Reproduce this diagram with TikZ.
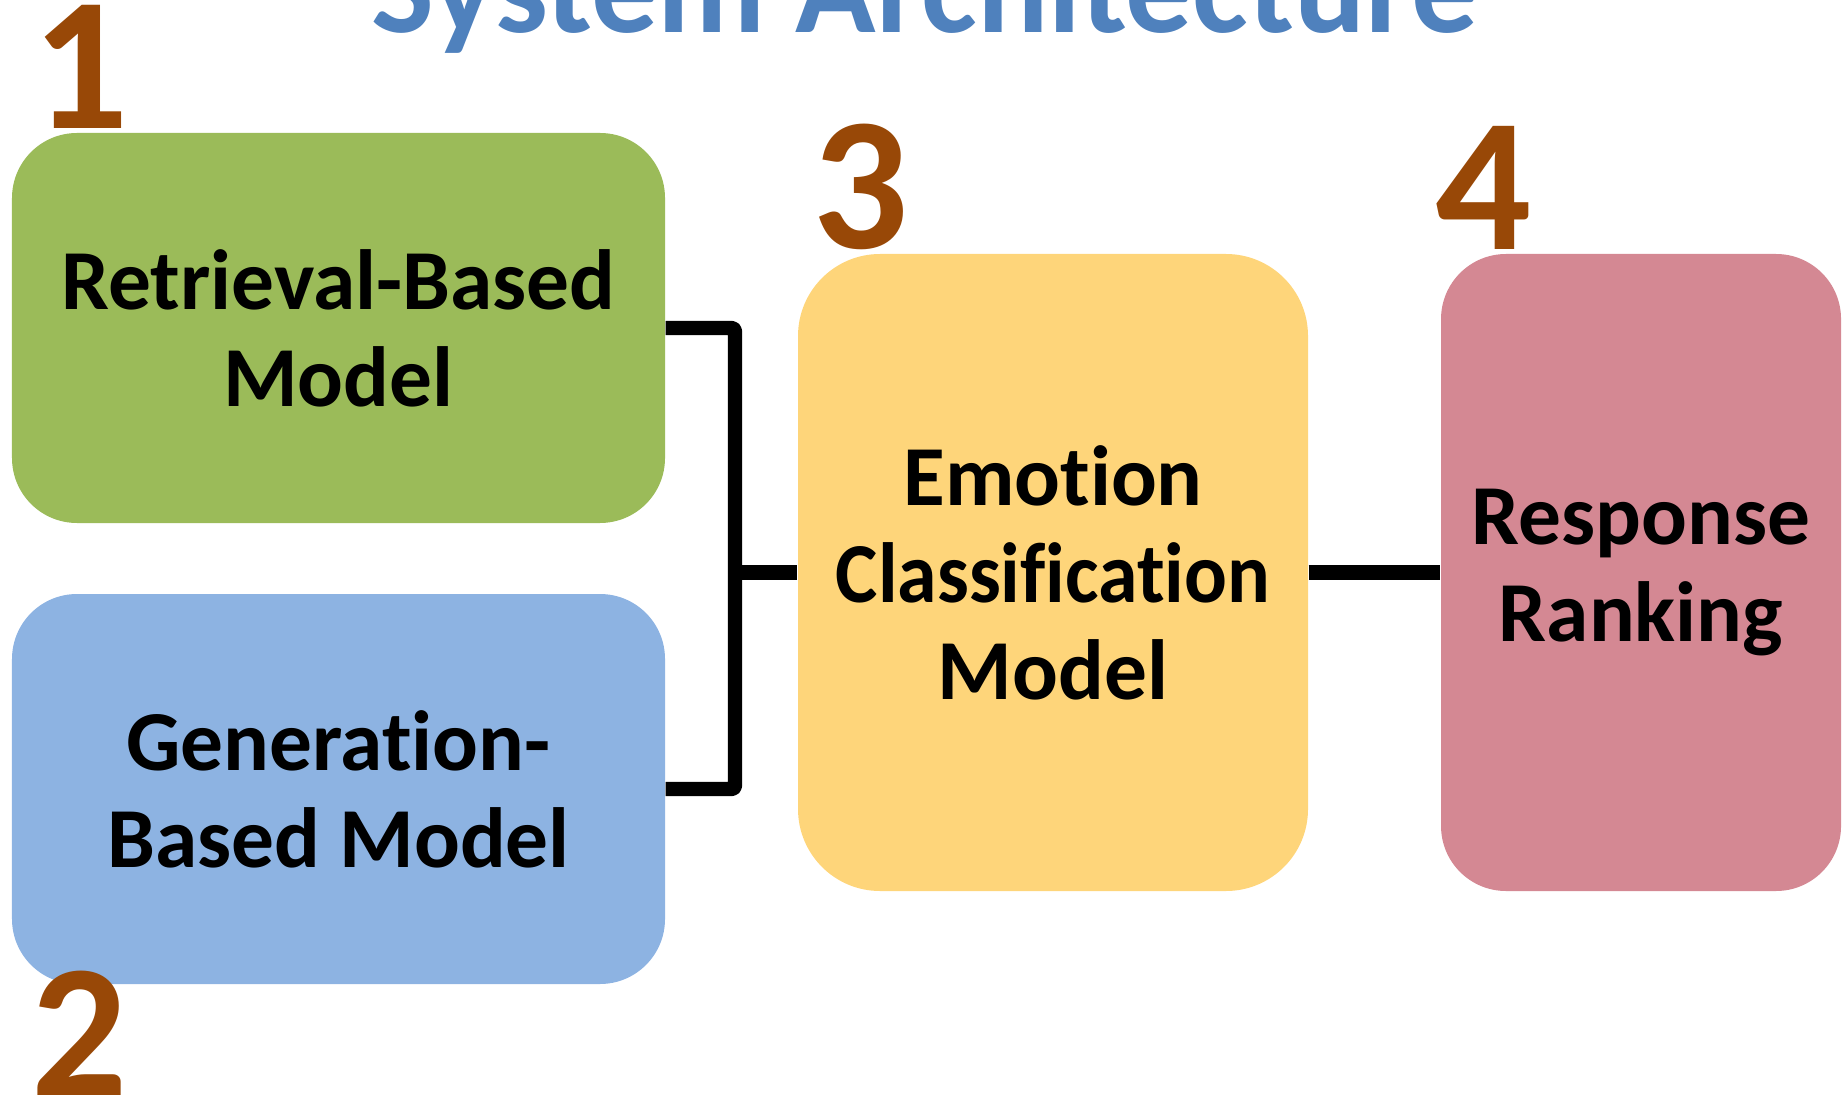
\documentclass[tikz,border=0pt]{standalone}
\usepackage{fontspec}
\setmainfont{Carlito}[Ligatures={NoCommon}]
\usepackage{xcolor}
\usepackage{graphicx}
\usetikzlibrary{positioning}

\definecolor{titleblue}{HTML}{4F81BD}
\definecolor{numbrown}{HTML}{984807}
\definecolor{boxgreen}{HTML}{9BBB59}
\definecolor{boxblue}{HTML}{8DB3E2}
\definecolor{boxyellow}{HTML}{FED57A}
\definecolor{boxpink}{HTML}{D48893}

\tikzset{
	block/.style={rectangle, rounded corners=0.65cm, align=center, inner sep=0pt,
		font=\bfseries\fontsize{24.3}{27.6}\selectfont},
	numlabel/.style={anchor=base, text=numbrown, inner sep=0pt,
		font=\bfseries\fontsize{54}{54}\selectfont},
	conn/.style={line width=4.1pt, line join=round, rounded corners=1pt}
}

\begin{document}
\begin{tikzpicture}
	\useasboundingbox (0,0) rectangle (18.43,-10.95);

	\node[anchor=base, text=titleblue, font=\bfseries\fontsize{37.8}{37.8}\selectfont] (title) at (9.25,-0.33) {System Architecture};

	% the four models
	\node[block, fill=boxgreen, minimum width=6.53cm, minimum height=3.90cm] (retrieval) at (3.385,-3.28) {Retrieval-Based\\Model};
	\node[block, fill=boxblue, minimum width=6.53cm, minimum height=3.90cm] (generation) at (3.385,-7.89) {Generation-\\Based Model};
	\node[block, fill=boxyellow, minimum width=5.10cm, minimum height=6.37cm, rounded corners=0.82cm] (emotion) at (10.53,-5.725) {Emotion\\\scalebox{0.935}[1]{Classification}\\Model};
	\node[block, fill=boxpink, minimum width=4.00cm, minimum height=6.37cm] (ranking) at (16.41,-5.725) {Response\\Ranking};

	% step numbers
	\node[numlabel] (n1) at (0.81,-1.29) {1};
	\node[numlabel] (n2) at (0.80,-10.95) {2};
	\node[numlabel] (n3) at (8.61,-2.49) {3};
	\node[numlabel] (n4) at (14.84,-2.50) {4};

	% connectors
	\coordinate (joint) at (7.35,-5.725);
	\draw[conn] (retrieval.east) -| (joint) |- (generation.east);
	\draw[conn] (joint) -- (emotion.west);
	\draw[conn] (emotion.east) -- (ranking.west);
\end{tikzpicture}
\end{document}
